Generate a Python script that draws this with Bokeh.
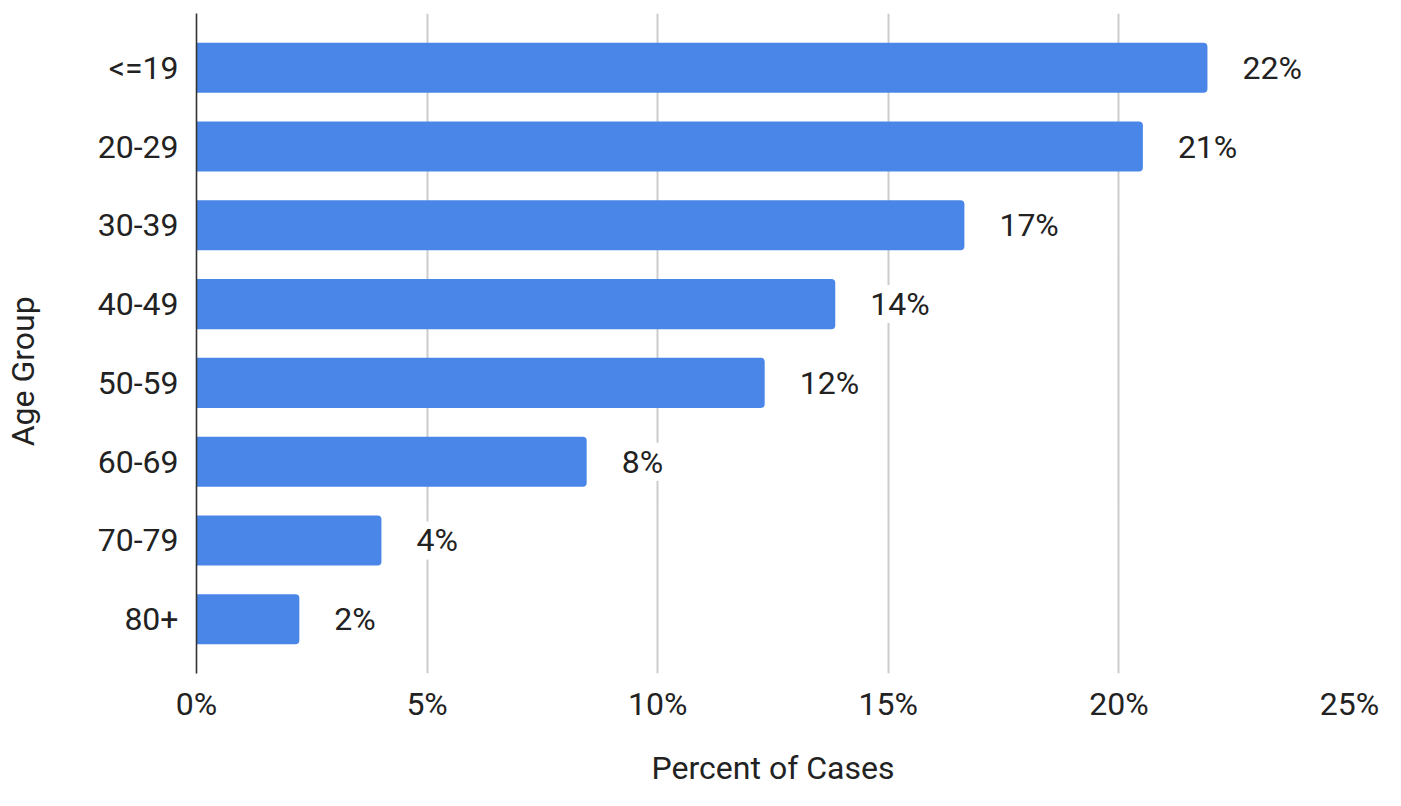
from bokeh.plotting import figure
from bokeh.models import (ColumnDataSource, FactorRange, Range1d, FixedTicker,
                          PrintfTickFormatter)
from bokeh.core.properties import value
from bokeh.embed import file_html
from bokeh.resources import INLINE

# ---- data ----
age_groups = ["<=19", "20-29", "30-39", "40-49", "50-59", "60-69", "70-79", "80+"]
percent_of_cases = [21.92, 20.52, 16.65, 13.85, 12.32, 8.46, 4.01, 2.23]
value_labels = ["22%", "21%", "17%", "14%", "12%", "8%", "4%", "2%"]
x_ticks = [0, 5, 10, 15, 20, 25]
x_title = "Percent of Cases"
y_title = "Age Group"

FONT = "Roboto"
FS = "32px"
TXT = "#222222"
PAD = 0.19

factors = list(reversed(age_groups))
src = ColumnDataSource(dict(group=age_groups, pct=percent_of_cases, lab=value_labels))

p = figure(width=1385, height=790, output_backend="svg", toolbar_location=None,
           y_range=FactorRange(factors=factors, range_padding=PAD,
                               range_padding_units="absolute"),
           x_range=Range1d(0, 25),
           min_border_left=196, min_border_right=36, min_border_top=13,
           min_border_bottom=117)
p.outline_line_color = None
p.background_fill_color = "white"

p.hbar(y="group", right="pct", left=0, height=0.635, source=src,
       fill_color="#4a86e8", line_color=None, border_radius=(0, 4, 4, 0))

p.text(x="pct", y="group", text="lab", source=src, x_offset=35,
       text_align="left", text_baseline="middle",
       text_font=value(FONT), text_font_size=FS, text_color=TXT,
       background_fill_color="white")

# x axis
xa = p.xaxis[0]
xa.ticker = FixedTicker(ticks=x_ticks)
xa.formatter = PrintfTickFormatter(format="%d%%")
xa.axis_line_color = None
xa.major_tick_line_color = None
xa.minor_tick_line_color = None
xa.major_label_standoff = 5
xa.major_label_text_font = FONT
xa.major_label_text_font_size = FS
xa.major_label_text_color = TXT
xa.axis_label = x_title
xa.axis_label_standoff = 23
xa.axis_label_text_font = FONT
xa.axis_label_text_font_size = FS
xa.axis_label_text_font_style = "normal"
xa.axis_label_text_color = TXT

# y axis
ya = p.yaxis[0]
ya.axis_line_color = "#333333"
ya.axis_line_width = 1.6
ya.major_tick_line_color = None
ya.minor_tick_line_color = None
ya.major_label_standoff = 12
ya.major_label_text_font = FONT
ya.major_label_text_font_size = FS
ya.major_label_text_color = TXT
# trailing no-break spaces shift the centred title slightly down, as in the reference
ya.axis_label = y_title + "\u00a0" * 7
ya.axis_label_standoff = 53
ya.axis_label_text_font = FONT
ya.axis_label_text_font_size = FS
ya.axis_label_text_font_style = "normal"
ya.axis_label_text_color = TXT

p.ygrid.grid_line_color = None
p.xgrid.grid_line_color = "#cccccc"
p.xgrid.grid_line_width = 2

open("out.html", "w").write(file_html(p, INLINE))
